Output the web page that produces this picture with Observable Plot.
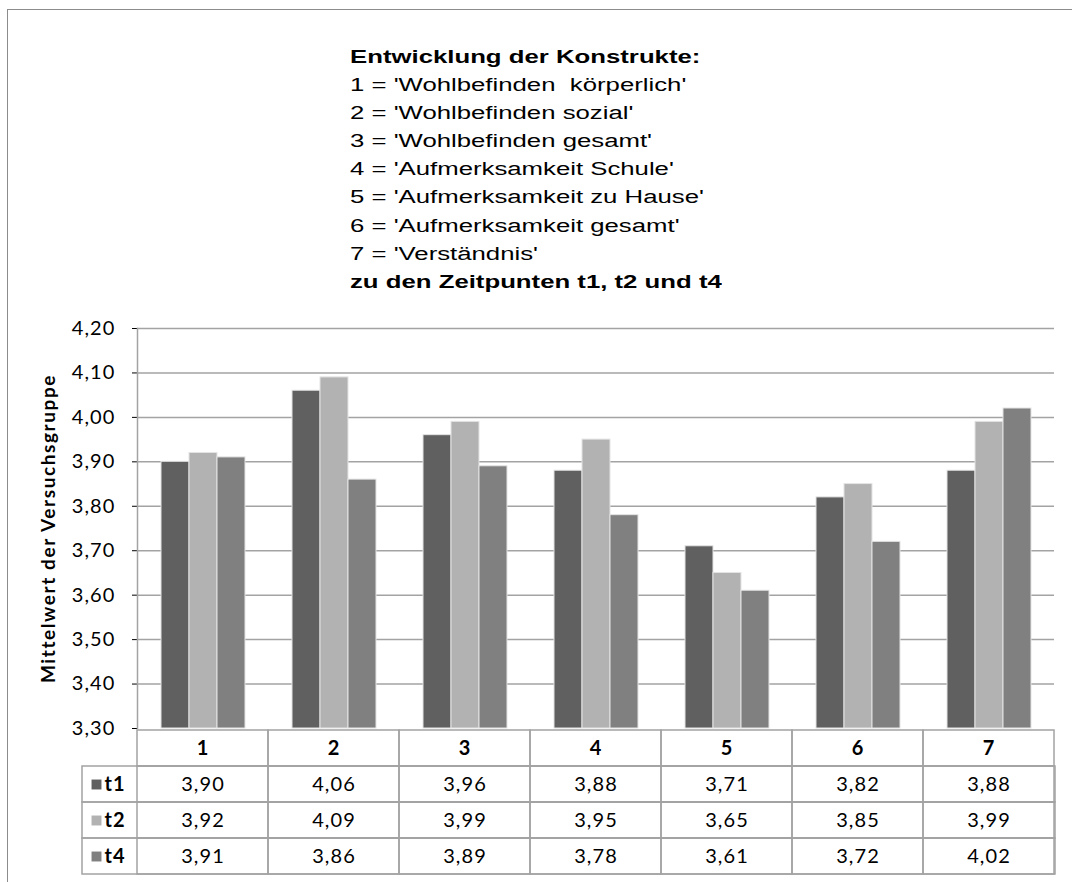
<!DOCTYPE html>
<html>
<head>
<meta charset="utf-8">
<script src="https://cdn.jsdelivr.net/npm/d3@7"></script>
<script src="https://cdn.jsdelivr.net/npm/@observablehq/plot@0.6"></script>
<style>
  body { margin: 0; background: #fff; }
  #wrap { position: relative; width: 1072px; height: 882px; overflow: hidden; background: #fff; }
  #frame { position: absolute; left: 7px; top: 9px; right: -5px; bottom: -5px;
           border-left: 1px solid #8c8c8c; border-top: 1px solid #8c8c8c; }
  #title { position: absolute; left: 350px; top: 43px; font-family: "Liberation Sans", Arial, sans-serif;
           font-size: 18px; line-height: 28.1px; color: #000; white-space: pre;
           transform: scaleX(1.43); transform-origin: 0 0; }
  #title .b { font-weight: bold; }
  #chart { position: absolute; left: 0; top: 300px; }
  #table { position: absolute; left: 0; top: 728px; }
  #chart svg g[aria-label="y-axis label"] text { font-weight: bold; letter-spacing: 1.6px; font-size: 19px; }
</style>
</head>
<body>
<div id="wrap">
  <div id="frame"></div>
  <div id="title"></div>
  <div id="chart"></div>
  <div id="table"></div>
</div>
<script>
// ---- data ----
const categories = ["1", "2", "3", "4", "5", "6", "7"];
const series = ["t1", "t2", "t4"];
const t1 = [3.90, 4.06, 3.96, 3.88, 3.71, 3.82, 3.88];
const t2 = [3.92, 4.09, 3.99, 3.95, 3.65, 3.85, 3.99];
const t4 = [3.91, 3.86, 3.89, 3.78, 3.61, 3.72, 4.02];
const colors = ["#606060", "#b2b2b2", "#808080"];
const yTicks = [3.3, 3.4, 3.5, 3.6, 3.7, 3.8, 3.9, 4.0, 4.1, 4.2];
const yLabel = "Mittelwert der Versuchsgruppe";
const titleLines = [
  "Entwicklung der Konstrukte:",
  "1 = 'Wohlbefinden  körperlich'",
  "2 = 'Wohlbefinden sozial'",
  "3 = 'Wohlbefinden gesamt'",
  "4 = 'Aufmerksamkeit Schule'",
  "5 = 'Aufmerksamkeit zu Hause'",
  "6 = 'Aufmerksamkeit gesamt'",
  "7 = 'Verständnis'",
  "zu den Zeitpunten t1, t2 und t4"
];

// ---- layout ----
const W = 1072, left = 135, right = 17;
const valuesBySeries = [t1, t2, t4];
const rows = categories.flatMap((c, i) => series.map((s, j) => ({cat: c, series: s, value: valuesBySeries[j][i]})));
const fmt = v => v.toFixed(2).replace(".", ",");

// title
const title = document.getElementById("title");
titleLines.forEach((t, i) => {
  const d = document.createElement("div");
  d.textContent = t;
  if (i === 0 || i === titleLines.length - 1) d.className = "b";
  title.appendChild(d);
});

const gridColor = "#a3a3a3";
const textStyle = {fontFamily: "Lato, sans-serif", fontSize: "20px", letterSpacing: "1.1px", color: "#000", background: "transparent", overflow: "visible"};

const chart = Plot.plot({
  width: W, height: 450,
  marginLeft: left, marginRight: right, marginTop: 28, marginBottom: 22,
  style: textStyle,
  fx: {domain: categories, padding: 0, axis: null},
  x: {domain: series, paddingInner: 0, paddingOuter: 0.76, axis: null},
  y: {domain: [3.3, 4.2], ticks: yTicks, tickFormat: fmt, tickSize: 5, tickPadding: 17,
      label: yLabel, labelAnchor: "center", labelOffset: 96, labelArrow: "none"},
  color: {domain: series, range: colors},
  marks: [
    Plot.ruleY(yTicks.slice(1), {stroke: gridColor, strokeWidth: 1.5}),
    Plot.barY(rows, {fx: "cat", x: "series", y1: 3.3, y2: "value", fill: "series", stroke: "#e4e4e4", strokeWidth: 1}),
    Plot.frame({anchor: "left", stroke: gridColor, strokeWidth: 1.5, facet: "super"})
  ]
});
document.getElementById("chart").appendChild(chart);

const table = Plot.plot({
  width: W, height: 152,
  marginLeft: 82, marginRight: right, marginTop: 1, marginBottom: 5,
  style: textStyle,
  x: {domain: categories, range: [left, W - right], padding: 0, axis: null},
  y: {domain: ["", ...series], padding: 0, axis: null},
  color: {domain: series, range: colors},
  marks: [
    Plot.cell(series, {y: d => d, fill: "none", stroke: gridColor, strokeWidth: 1.5}),
    Plot.cell(categories, {x: d => d, y: () => "", fill: "none", stroke: gridColor, strokeWidth: 1.5}),
    Plot.cell(rows, {x: "cat", y: "series", fill: "none", stroke: gridColor, strokeWidth: 1.5}),
    Plot.text(categories, {x: d => d, y: () => "", text: d => d, fontWeight: "bold", fill: "#000"}),
    Plot.text(rows, {x: "cat", y: "series", text: d => fmt(d.value), fill: "#000"}),
    Plot.dot(series, {y: d => d, frameAnchor: "left", dx: 14, symbol: "square", r: 5.6, fill: d => d, stroke: null}),
    Plot.text(series, {y: d => d, frameAnchor: "left", dx: 22, text: d => d, textAnchor: "start", fontWeight: "bold", fill: "#000"})
  ]
});
document.getElementById("table").appendChild(table);
</script>
</body>
</html>
